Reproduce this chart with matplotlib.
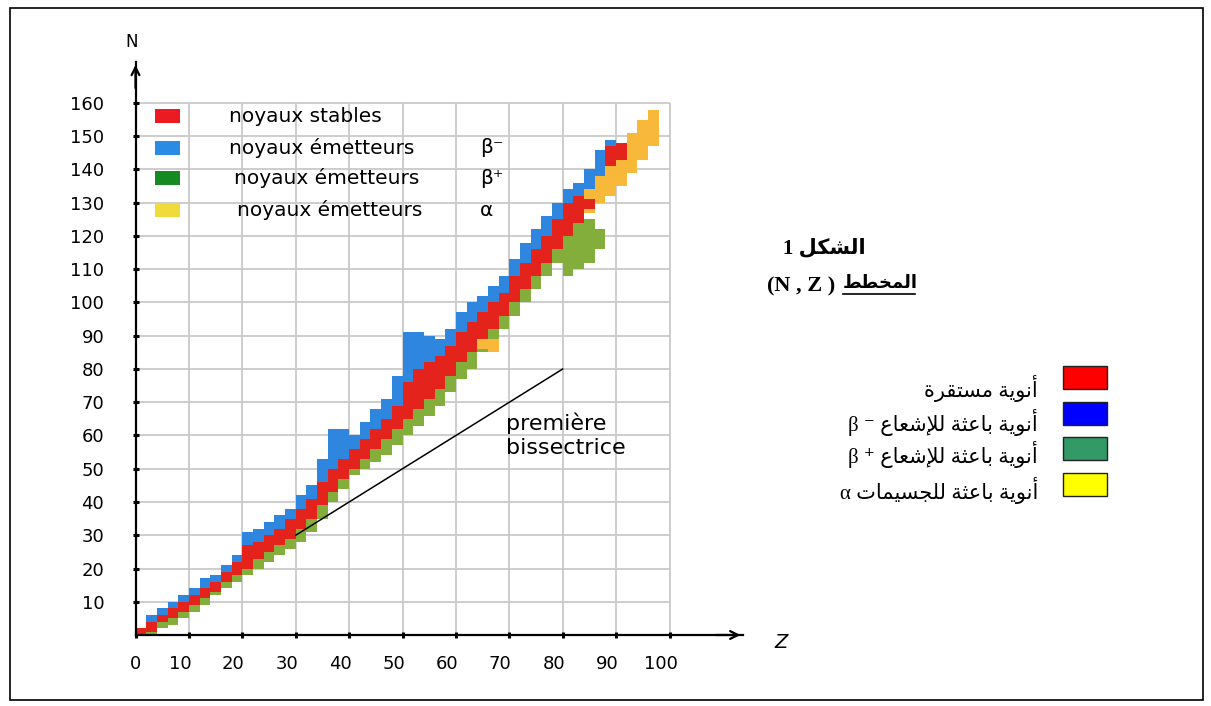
import matplotlib as mpl
import matplotlib.pyplot as plt
from matplotlib.patches import Rectangle
from matplotlib.lines import Line2D
from matplotlib.transforms import ScaledTranslation
import numpy as np

# ---------------------------------------------------------------------------
# data: chart of nuclides, read column by column (columns are 2 Z wide,
# value = left edge of column); extents are in N
# ---------------------------------------------------------------------------
Z_MAIN = [0, 2, 4, 6, 8, 10, 12, 14, 16, 18, 20, 22, 24, 26, 28, 30, 32, 34,
          36, 38, 40, 42, 44, 46, 48, 50, 52, 54, 56, 58, 60, 62, 64, 66, 68,
          70, 72, 74, 76, 78, 80]
N_BOTTOM = [0, 0, 2, 3, 5, 7, 9, 12, 14, 16, 18, 20, 22, 24, 26, 28, 31, 35,
            40, 44, 48, 50, 52, 54, 57, 60, 63, 66, 69, 73, 77, 80, 85, 88, 92,
            96, 100, 104, 108, 112, 108]
N_RED_LO = [0, 1, 4, 5, 7, 9, 11, 13, 16, 18, 20, 23, 25, 27, 29, 32, 35, 39,
            43, 47, 50, 53, 56, 59, 62, 65, 68, 71, 74, 78, 82, 85, 89, 92, 96,
            100, 104, 108, 112, 116, 120]
N_RED_HI = [2, 4, 6, 8, 10, 12, 14, 16, 19, 22, 27, 28, 30, 32, 35, 38, 41, 46,
            50, 53, 56, 59, 62, 65, 69, 76, 80, 82, 84, 87, 91, 94, 97, 100, 103,
            108, 112, 116, 120, 125, 130]
N_TOP = [2, 6, 8, 10, 12, 14, 17, 18, 21, 24, 31, 32, 34, 36, 38, 42, 45, 53,
         62, 62, 60, 64, 68, 71, 78, 91, 91, 90, 89, 92, 97, 100, 102, 105, 108,
         113, 118, 122, 126, 130, 134]

# heavy end of the chart
Z_HEAVY_GREEN = [82, 84, 86]
N_HEAVY_GREEN = [(110, 124), (112, 125), (116, 122)]
Z_HEAVY_RED = [82, 84, 88, 90]
N_HEAVY_RED = [(124, 132), (128, 131), (141, 147), (143, 148)]
Z_HEAVY_BLUE = [82, 84, 86, 88]
N_HEAVY_BLUE = [(132, 136), (134, 140), (138, 146), (144, 149)]
Z_ALPHA = [62, 64, 66, 82, 84, 86, 88, 90, 92, 94, 96]
N_ALPHA = [(86, 89), (86, 89), (85, 89), (126, 132), (127, 136), (130, 139),
           (132, 143), (135, 147), (139, 151), (143, 155), (147, 158)]

Z_TICKS = [0, 10, 20, 30, 40, 50, 60, 70, 80, 90, 100]
N_TICKS = [10, 20, 30, 40, 50, 60, 70, 80, 90, 100, 110, 120, 130, 140, 150, 160]
BISECTOR = ([30, 80], [30, 80])

LEGEND_FR = ["noyaux stables", "noyaux émetteurs", "noyaux émetteurs",
             "noyaux émetteurs"]
LEGEND_FR_SYM = ["", "β⁻", "β⁺", "α"]
LEGEND_AR = ["أنوية مستقرة", "أنوية باعثة للإشعاع", "أنوية باعثة للإشعاع",
             "أنوية باعثة للجسيمات"]
LEGEND_AR_SYM = ["", "β ⁻", "β ⁺", "α"]

C_PLOT = ["#E3231C", "#2E86DE", "#84AE3C", "#F8B83A"]
C_KEY_IN = ["#EC1B22", "#2A8BE4", "#168A22", "#F1DB3A"]
C_KEY_OUT = ["#FF0000", "#0000FF", "#339966", "#FFFF00"]

W, H = 1211, 706


# minimal Arabic shaping (presentation forms B) so the text joins and reads RTL
_AR_LETTERS = "ءآأؤإئابةتثجحخدذرزسشصضطظعغفقكلمنهوىي"
_AR_COUNTS = [1, 2, 2, 2, 2, 4, 2, 4, 2, 4, 4, 4, 4, 4, 2, 2, 2, 2, 4, 4, 4, 4,
              4, 4, 4, 4, 4, 4, 4, 4, 4, 4, 4, 2, 2, 4]
_FORMS = {}
_c = 0xFE80
for _ch, _n in zip(_AR_LETTERS, _AR_COUNTS):
    _FORMS[_ch] = [chr(_c + i) for i in range(_n)]
    _c += _n
_LAMALEF = {"آ": 0xFEF5, "أ": 0xFEF7, "إ": 0xFEF9, "ا": 0xFEFB}


def ar(s):
    out, i = [], 0
    while i < len(s):
        c = s[i]
        if c not in _FORMS:
            out.append(c); i += 1; continue
        prev = s[i - 1] if i > 0 else ""
        link_prev = prev in _FORMS and len(_FORMS[prev]) == 4
        if c == "ل" and i + 1 < len(s) and s[i + 1] in _LAMALEF:
            out.append(chr(_LAMALEF[s[i + 1]] + (1 if link_prev else 0)))
            i += 2; continue
        f = _FORMS[c]
        nxt = s[i + 1] if i + 1 < len(s) else ""
        link_next = len(f) == 4 and nxt in _FORMS
        if len(f) == 1:
            g = f[0]
        elif link_prev and link_next:
            g = f[3]
        elif link_prev:
            g = f[1]
        elif link_next:
            g = f[2]
        else:
            g = f[0]
        out.append(g); i += 1
    return "".join(reversed(out))


def fx(x):
    return x / W


def fy(y):
    return 1 - y / H


mpl.rcParams.update({"font.family": ["DejaVu Sans"], "font.size": 12})

fig = plt.figure(figsize=(W / 100, H / 100), dpi=100)

# axes geometry: Z=0 at x=135.5 px (5.34 px / unit), N=0 at y=635 px (3.325 px / unit)
z_max, n_max = 113.8, 172.3
ax = fig.add_axes([fx(135.5), fy(635), z_max * 5.34 / W, n_max * 3.325 / H])
ax.set_xlim(0, z_max)
ax.set_ylim(0, n_max)
for s in ["top", "right"]:
    ax.spines[s].set_visible(False)
for s in ["left", "bottom"]:
    ax.spines[s].set_linewidth(1.6)
    ax.spines[s].set_zorder(6)

# grid
ax.vlines(Z_TICKS[1:], 0, 160, color="#C9C9C9", lw=1.3, zorder=1)
ax.hlines(N_TICKS, 0, 100, color="#C9C9C9", lw=1.3, zorder=1)

# nuclide bands
green_z = Z_MAIN + Z_HEAVY_GREEN
green_lo = N_BOTTOM + [a for a, b in N_HEAVY_GREEN]
green_hi = N_RED_LO + [b for a, b in N_HEAVY_GREEN]
blue_z = Z_MAIN + Z_HEAVY_BLUE
blue_lo = N_RED_HI + [a for a, b in N_HEAVY_BLUE]
blue_hi = N_TOP + [b for a, b in N_HEAVY_BLUE]
red_z = Z_MAIN + Z_HEAVY_RED
red_lo = N_RED_LO + [a for a, b in N_HEAVY_RED]
red_hi = N_RED_HI + [b for a, b in N_HEAVY_RED]
al_lo = [a for a, b in N_ALPHA]
al_hi = [b for a, b in N_ALPHA]

for zs, lo, hi, col, zo in [(green_z, green_lo, green_hi, C_PLOT[2], 2),
                            (Z_ALPHA, al_lo, al_hi, C_PLOT[3], 3),
                            (blue_z, blue_lo, blue_hi, C_PLOT[1], 4),
                            (red_z, red_lo, red_hi, C_PLOT[0], 5)]:
    lo = np.array(lo, float)
    hi = np.array(hi, float)
    ax.bar(zs, hi - lo, bottom=lo, width=2, align="edge", color=col,
           linewidth=0, zorder=zo)

# first bisector
ax.plot(*BISECTOR, color="black", lw=1.1, zorder=6)
ax.text(69.4, 63.8, "première", fontsize=16, va="center", ha="left", zorder=7)
ax.text(69.4, 56.2, "bissectrice", fontsize=16, va="center", ha="left", zorder=7)

# axes arrows and names
ax.annotate("", xy=(1, 0), xytext=(0.95, 0), xycoords="axes fraction",
            arrowprops=dict(arrowstyle="->", lw=1.6, color="black",
                            mutation_scale=14))
ax.annotate("", xy=(0, 1), xytext=(0, 0.95), xycoords="axes fraction",
            arrowprops=dict(arrowstyle="->", lw=1.6, color="black",
                            mutation_scale=14))
fig.text(fx(132), fy(42), "N", fontsize=12, ha="center", va="center")
fig.text(fx(781), fy(643), "Z", fontsize=14, ha="center", va="center",
         style="italic")

# ticks
ax.set_xticks(Z_TICKS)
ax.set_xticklabels([str(v) for v in Z_TICKS])
ax.set_yticks(N_TICKS)
ax.set_yticklabels([str(v) for v in N_TICKS])
ax.tick_params(axis="both", direction="inout", length=5, width=2.2,
               labelsize=13, color="black")
ax.tick_params(axis="x", pad=12)
ax.tick_params(axis="y", pad=20)
for lab in ax.get_xticklabels()[1:]:
    lab.set_transform(lab.get_transform() +
                      ScaledTranslation(-9 / 100, 0, fig.dpi_scale_trans))

# in-chart French key
key_n = [156, 146.6, 137.3, 127.8]
key_x = [17.6, 17.6, 18.5, 19.1]
for i in range(4):
    ax.add_patch(Rectangle((3.7, key_n[i] - 2.1), 4.6, 4.2, color=C_KEY_IN[i],
                           lw=0, zorder=7, clip_on=False))
    ax.text(key_x[i], key_n[i], LEGEND_FR[i], fontsize=14.5, va="center",
            ha="left", zorder=7)
    if LEGEND_FR_SYM[i]:
        ax.text(64.5, key_n[i], LEGEND_FR_SYM[i], fontsize=14.5, va="center",
                ha="left", zorder=7)

# right-hand caption (Arabic)
serif = ["Liberation Serif", "DejaVu Sans"]
fig.text(fx(824), fy(248), "1 " + ar("الشكل"), fontsize=15, weight="bold",
         family=serif, ha="center", va="center")
fig.text(fx(835), fy(286), "(N , Z )", fontsize=16, weight="bold",
         family=serif, ha="right", va="center")
fig.text(fx(843), fy(284), ar("المخطط"), fontsize=13, weight="bold",
         family=serif, ha="left", va="center")
fig.add_artist(Line2D([fx(843), fx(915)], [fy(294), fy(294)],
                      color="black", lw=1.2))

rect_y = [366, 401.5, 437, 472.5]
text_y = [389, 423, 455, 490]
for i in range(4):
    fig.add_artist(Rectangle((fx(1063), fy(rect_y[i] + 23)), 44 / W, 23 / H,
                             transform=fig.transFigure, facecolor=C_KEY_OUT[i],
                             edgecolor="#222222", lw=1))
    label = ar(LEGEND_AR[i])
    if LEGEND_AR_SYM[i]:
        label = LEGEND_AR_SYM[i] + " " + label
    fig.text(fx(1038), fy(text_y[i]), label, fontsize=15, family=serif,
             ha="right", va="center")

# outer frame
fig.add_artist(Rectangle((fx(10), fy(700)), (1203 - 10) / W, (700 - 8) / H,
                         transform=fig.transFigure, fill=False,
                         edgecolor="black", lw=1.2))

fig.savefig("out.png", dpi=100)
